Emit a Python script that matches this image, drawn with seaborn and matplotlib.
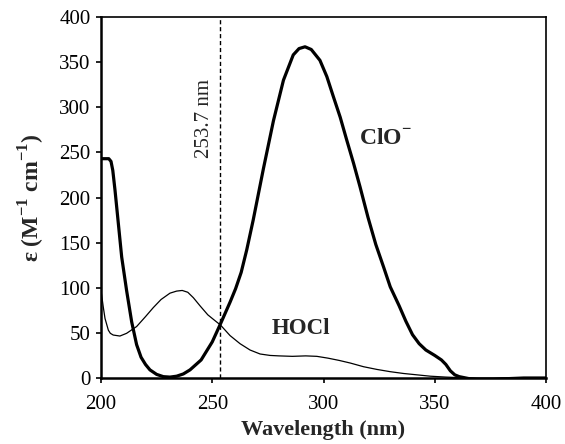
import matplotlib
matplotlib.use("Agg")
import matplotlib.pyplot as plt
import seaborn as sns
import pandas as pd

wl_clo = [200, 202, 203.5, 204.5, 205.3, 206.3, 207.8, 209.3, 211.5, 213.8, 216, 218, 220,
          222, 225, 228, 231, 234, 237, 240, 245, 250, 253.7, 258, 260.5, 263, 265.5, 268.4,
          273, 277.5, 282, 286.4, 289, 291.7, 294.5, 298.4, 301.5, 304.4, 307.5, 310.4,
          313.5, 316.4, 320, 323.5, 327, 330, 334, 337, 340, 343, 346, 350, 353, 355,
          357, 359, 361, 363, 366, 370, 375, 380, 390, 400]
eps_clo = [243, 243, 243, 240, 230, 208, 171, 134, 97, 62, 37, 23, 15,
           9, 4, 1.5, 1, 2, 4.5, 9, 20, 40, 60, 84, 99, 117, 142, 175,
           232, 285, 330, 358, 365, 367, 364, 352, 334, 312, 289, 264,
           238, 212, 178, 148, 123, 101, 80, 63, 48, 38, 31, 25, 20, 15,
           8, 3.5, 1.5, 0.5, -1, -2, -2, -1, 0, 0]

wl_hocl = [200, 201, 201.8, 203.3, 204.2, 205.5, 208.5, 211.5, 216, 220, 223.5, 227, 231,
           234, 236.5, 239, 241.5, 244.5, 248, 251, 253.7, 258, 262.5, 267, 271.5, 276,
           280, 286, 292, 297, 302, 307, 312, 318, 324, 330, 336, 342, 348, 355, 362, 370,
           380, 400]
eps_hocl = [97, 79, 66, 53, 49.5, 47.6, 46.5, 49.5, 57, 68, 78, 87, 94,
            96.3, 97, 95, 89, 80, 70, 64, 58.7, 47, 38, 31, 26.6, 25,
            24.5, 24, 24.5, 24, 22, 19.5, 16.6, 12.5, 9.5, 7, 5, 3.5, 2, 1, 0.3, 0,
            0, 0]

x_ticks = [200, 250, 300, 350, 400]
y_ticks = [0, 50, 100, 150, 200, 250, 300, 350, 400]
marker_wl = 253.7

sns.set_style("ticks")
plt.rcParams['font.family'] = ['Liberation Serif', 'DejaVu Serif']
plt.rcParams['mathtext.fontset'] = 'custom'
plt.rcParams['mathtext.rm'] = 'Liberation Serif'
plt.rcParams['mathtext.bf'] = 'Liberation Serif:bold'

fig = plt.figure(figsize=(5.65, 4.44), dpi=100)
ax = fig.add_axes([101/565, 1-378/444, 445/565, 361/444])

df_clo = pd.DataFrame({"wl": wl_clo, "eps": eps_clo})
df_hocl = pd.DataFrame({"wl": wl_hocl, "eps": eps_hocl})
sns.lineplot(data=df_clo, x="wl", y="eps", ax=ax, color="black", linewidth=2.3,
             estimator=None, sort=False)
sns.lineplot(data=df_hocl, x="wl", y="eps", ax=ax, color="black", linewidth=0.9,
             estimator=None, sort=False)

ax.axvline(marker_wl, color="black", linestyle=(0, (3, 2)), linewidth=1.0)

ax.set_xlim(200, 400)
ax.set_ylim(0, 400)
ax.set_xticks(x_ticks)
ax.set_yticks(y_ticks)
ax.tick_params(axis="both", labelsize=15, direction="out", length=3.5, width=1.2,
               color="black", labelcolor="black", pad=4)
ax.tick_params(axis="x", pad=9)
for s in ax.spines.values():
    s.set_linewidth(1.2)
    s.set_color("black")
ax.spines['left'].set_linewidth(1.8)
ax.spines['bottom'].set_linewidth(1.8)

ax.set_xlabel("Wavelength (nm)", fontsize=16, fontweight="bold", labelpad=4)
ax.set_ylabel(r"$\mathbf{\varepsilon}$ (M$^{\mathbf{-1}}$ cm$^{\mathbf{-1}}$)", fontsize=17,
              fontweight="bold", labelpad=9)

ax.text(246.3, 287, "253.7 nm", rotation=90, ha="center", va="center", fontsize=15)
ax.text(328, 264, "ClO$^{\\mathbf{-}}$", ha="center", va="center", fontsize=17,
        fontweight="bold")
ax.text(290, 55, "HOCl", ha="center", va="center", fontsize=16.5, fontweight="bold")

fig.savefig("out.png", dpi=100)
